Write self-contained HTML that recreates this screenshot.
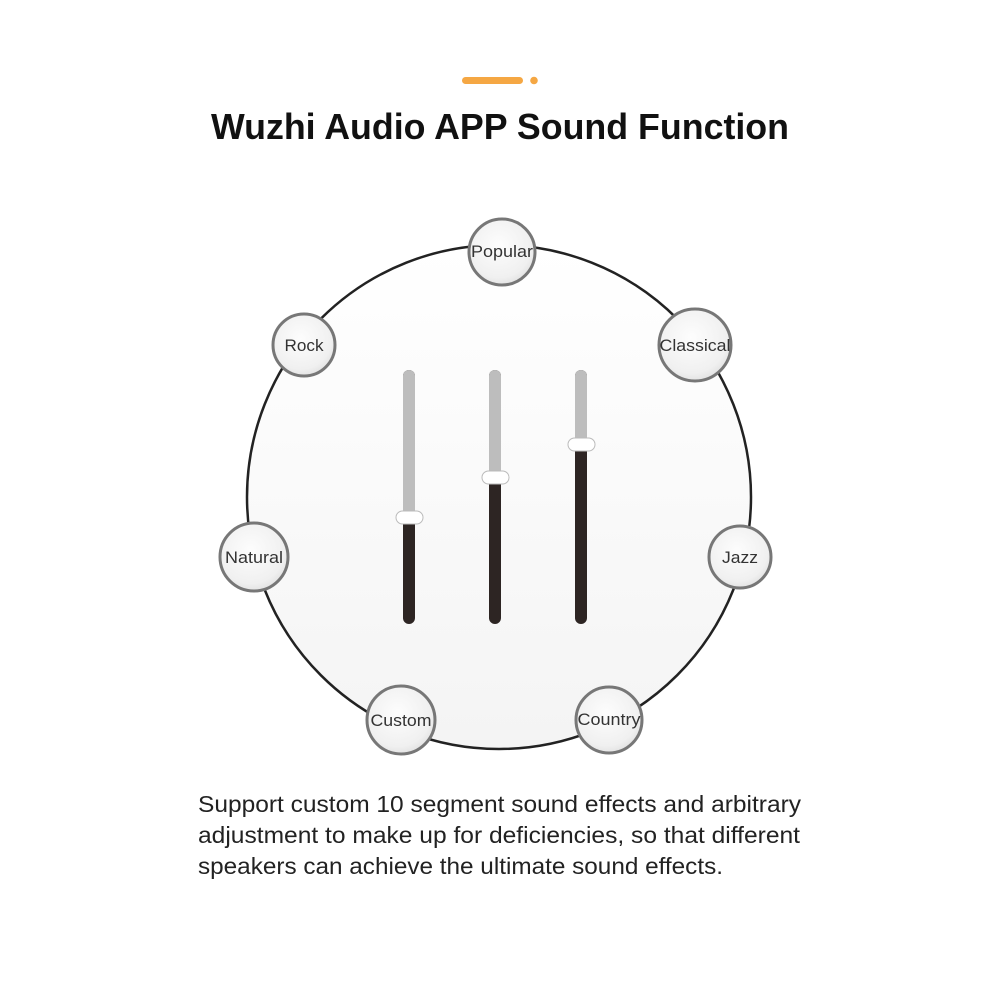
<!DOCTYPE html>
<html><head><meta charset="utf-8"><style>
body{margin:0;background:#fff;}
svg{display:block}
</style></head><body>
<svg width="1000" height="1000" viewBox="0 0 1000 1000" xmlns="http://www.w3.org/2000/svg" font-family="Liberation Sans, sans-serif">
<defs>
<radialGradient id="g" cx="0.45" cy="0.4" r="0.7"><stop offset="0" stop-color="#fdfdfd"/><stop offset="0.7" stop-color="#f0f0f0"/><stop offset="1" stop-color="#d8d8d8"/></radialGradient>
<linearGradient id="bg" x1="0" y1="0" x2="0" y2="1"><stop offset="0" stop-color="#ffffff"/><stop offset="1" stop-color="#f4f4f4"/></linearGradient>
</defs>
<rect x="462" y="77" width="61" height="7" rx="3.5" fill="#f5a743"/>
<circle cx="534" cy="80.5" r="3.8" fill="#f5a743"/>
<text x="500" y="139" text-anchor="middle" font-size="36" font-weight="bold" fill="#111" textLength="578" lengthAdjust="spacingAndGlyphs">Wuzhi Audio APP Sound Function</text>
<circle cx="499" cy="497" r="252" fill="url(#bg)" stroke="#222" stroke-width="2.5"/>
<g>
<rect x="403" y="370" width="12" height="254" rx="6" fill="#2d2523"/>
<rect x="403" y="370" width="12" height="147" rx="6" fill="#bdbdbd"/>
<rect x="396" y="511" width="27" height="13" rx="6.5" fill="#fff" stroke="#bbb"/>
<rect x="489" y="370" width="12" height="254" rx="6" fill="#2d2523"/>
<rect x="489" y="370" width="12" height="107" rx="6" fill="#bdbdbd"/>
<rect x="482" y="471" width="27" height="13" rx="6.5" fill="#fff" stroke="#bbb"/>
<rect x="575" y="370" width="12" height="254" rx="6" fill="#2d2523"/>
<rect x="575" y="370" width="12" height="74" rx="6" fill="#bdbdbd"/>
<rect x="568" y="438" width="27" height="13" rx="6.5" fill="#fff" stroke="#bbb"/>
</g>
<g stroke="#777" stroke-width="3" fill="url(#g)">
<circle cx="502" cy="252" r="33"/>
<circle cx="304" cy="345" r="31"/>
<circle cx="695" cy="345" r="36"/>
<circle cx="254" cy="557" r="34"/>
<circle cx="740" cy="557" r="31"/>
<circle cx="401" cy="720" r="34"/>
<circle cx="609" cy="720" r="33"/>
</g>
<g font-size="17" fill="#333" text-anchor="middle" lengthAdjust="spacingAndGlyphs">
<text x="502" y="257" textLength="62" lengthAdjust="spacingAndGlyphs">Popular</text>
<text x="304" y="351" textLength="39" lengthAdjust="spacingAndGlyphs">Rock</text>
<text x="695" y="351" textLength="71" lengthAdjust="spacingAndGlyphs">Classical</text>
<text x="254" y="563" textLength="58" lengthAdjust="spacingAndGlyphs">Natural</text>
<text x="740" y="563" textLength="36" lengthAdjust="spacingAndGlyphs">Jazz</text>
<text x="401" y="726" textLength="61" lengthAdjust="spacingAndGlyphs">Custom</text>
<text x="609" y="725" textLength="63" lengthAdjust="spacingAndGlyphs">Country</text>
</g>
<g font-size="23" fill="#222">
<text x="198" y="812" textLength="603" lengthAdjust="spacingAndGlyphs">Support custom 10 segment sound effects and arbitrary</text>
<text x="198" y="843" textLength="602" lengthAdjust="spacingAndGlyphs">adjustment to make up for deficiencies, so that different</text>
<text x="198" y="874" textLength="525" lengthAdjust="spacingAndGlyphs">speakers can achieve the ultimate sound effects.</text>
</g>
</svg>
</body></html>
